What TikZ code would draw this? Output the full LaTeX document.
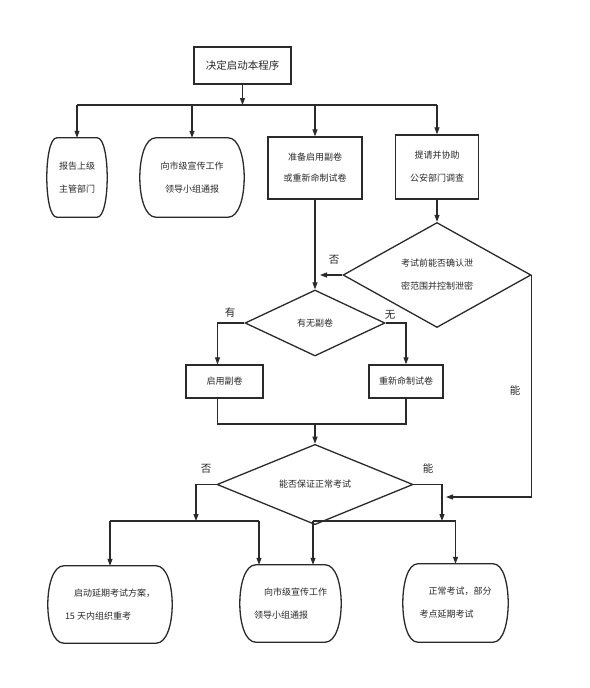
\documentclass[tikz,border=0pt]{standalone}
\usepackage{fontspec}
\setmainfont{Noto Sans CJK SC}
\usetikzlibrary{shapes.geometric,arrows.meta,calc}
\definecolor{ink}{HTML}{2A2A2A}
\tikzset{
 line/.style={draw=ink,line width=1.1pt},
 arrow/.style={line,-{Triangle[length=7pt,width=5pt]}},
 txt/.style={font=\fontsize{9}{23}\selectfont, text=ink, align=center},
 rectbox/.style={txt,draw=ink,line width=1.3pt,inner sep=0pt},
 barrelnode/.style={txt,inner sep=0pt},
 dia/.style={txt,diamond,draw=ink,line width=1.3pt,inner sep=0pt},
 lab/.style={font=\fontsize{10.5}{12}\selectfont,text=ink},
}
\newcommand\barrelpath[2][10]{%
 \draw[draw=ink,line width=1.3pt] ($(#2.north west)+(#1,0)$) -- ($(#2.north east)+(-#1,0)$)
   .. controls ($(#2.north east)+(#1/3,0)$) and ($(#2.south east)+(#1/3,0)$) .. ($(#2.south east)+(-#1,0)$)
   -- ($(#2.south west)+(#1,0)$)
   .. controls ($(#2.south west)+(-#1/3,0)$) and ($(#2.north west)+(-#1/3,0)$) .. cycle;}
\begin{document}
\begin{tikzpicture}[x=1pt,y=-1pt]
\useasboundingbox[fill=white] (0,0) rectangle (589,688);
% nodes
\node[rectbox, minimum width=97pt, minimum height=37pt, font=\fontsize{10.5}{12}\selectfont] (start) at (242.5,65.5) {决定启动本程序};
\node[barrelnode, minimum width=60pt, minimum height=79pt] (r1) at (77,177.5) {报告上级\\主管部门};
\node[barrelnode, minimum width=104pt, minimum height=79pt] (r2) at (192,177.5) {向市级宣传工作\\领导小组通报};
\node[rectbox, minimum width=94pt, minimum height=62pt, font=\fontsize{9}{21}\selectfont] (b3) at (315,168) {准备启用副卷\\或重新命制试卷};
\node[rectbox, minimum width=83pt, minimum height=64pt] (b4) at (437,167) {提请并协助\\公安部门调查};
\node[dia, minimum width=188pt, minimum height=105pt] (d1) at (437,275) {考试前能否确认泄\\密范围并控制泄密};
\node[dia, minimum width=140pt, minimum height=66pt] (d2) at (315,323) {有无副卷};
\node[rectbox, minimum width=77pt, minimum height=33pt] (b5) at (224.5,381.5) {启用副卷};
\node[rectbox, minimum width=74pt, minimum height=33pt] (b6) at (406,381.5) {重新命制试卷};
\node[dia, minimum width=196pt, minimum height=55pt] (d3) at (315,484.5) {能否保证正常考试};
\node[barrelnode, align=left, minimum width=124pt, minimum height=77pt] (A) at (110,604.5) {\hspace*{9pt}启动延期考试方案，\\15 天内组织重考};
\node[barrelnode, align=left, minimum width=101pt, minimum height=77pt] (B) at (290.5,603.5) {\hspace*{10pt}向市级宣传工作\\领导小组通报};
\node[barrelnode, align=left, minimum width=105pt, minimum height=78pt] (C) at (455.5,603) {\hspace*{9pt}正常考试，部分\\考点延期考试};
\barrelpath[10]{r1}
\barrelpath[16]{r2}
\barrelpath[16]{A}
\barrelpath[16]{B}
\barrelpath[15]{C}
% top bus
\coordinate (bus) at (242.5,105);
\draw[arrow] (start.south) -- (bus);
\draw[line] (r1.north |- bus) -- (b4.north |- bus);
\foreach \n in {r1,r2,b3,b4} \draw[arrow] (\n.north |- bus) -- (\n.north);
\draw[arrow] (b4.south) -- (d1.north);
\draw[arrow] (b3.south) -- (d2.north);
\draw[arrow,shorten >=5pt] (d1.west) -- (d1.west -| b3.south);
\node[lab] (no1) at (334,260) {否};
\draw[arrow] (d2.west) -| ([xshift=-7pt]b5.north);
\node[lab] (you) at (230,313) {有};
\draw[arrow] (d2.east) -| (b6.north);
\node[lab] (wu) at (390,315) {无};
\coordinate (m2) at (315,424);
\draw[line] ([xshift=-7pt]b5.south) |- (m2) -| (b6.south);
\draw[arrow] (m2) -- (d3.north);
\coordinate (jn) at (446,497);
\draw[arrow] (d1.east) |- (jn);
\node[lab] (neng1) at (515,390) {能};
% bottom
\coordinate (lb) at (196,521);
\coordinate (rb) at (442,521);
\coordinate (Bl) at ([xshift=-31.5pt]B.north);
\coordinate (Br) at ([xshift=22.5pt]B.north);
\draw[arrow] (d3.west) -| (lb);
\draw[line] (A.north |- lb) -- (Bl |- lb);
\draw[arrow] (A.north |- lb) -- (A.north);
\draw[arrow] (Bl |- lb) -- (Bl);
\node[lab] (no2) at (206,469) {否};
\draw[arrow] (d3.east) -| (rb);
\draw[line] (Br |- rb) -- (C.north |- rb);
\draw[arrow] (Br |- rb) -- (Br);
\draw[arrow] (C.north |- rb) -- (C.north);
\node[lab] (neng2) at (428,468) {能};
\end{tikzpicture}
\end{document}
